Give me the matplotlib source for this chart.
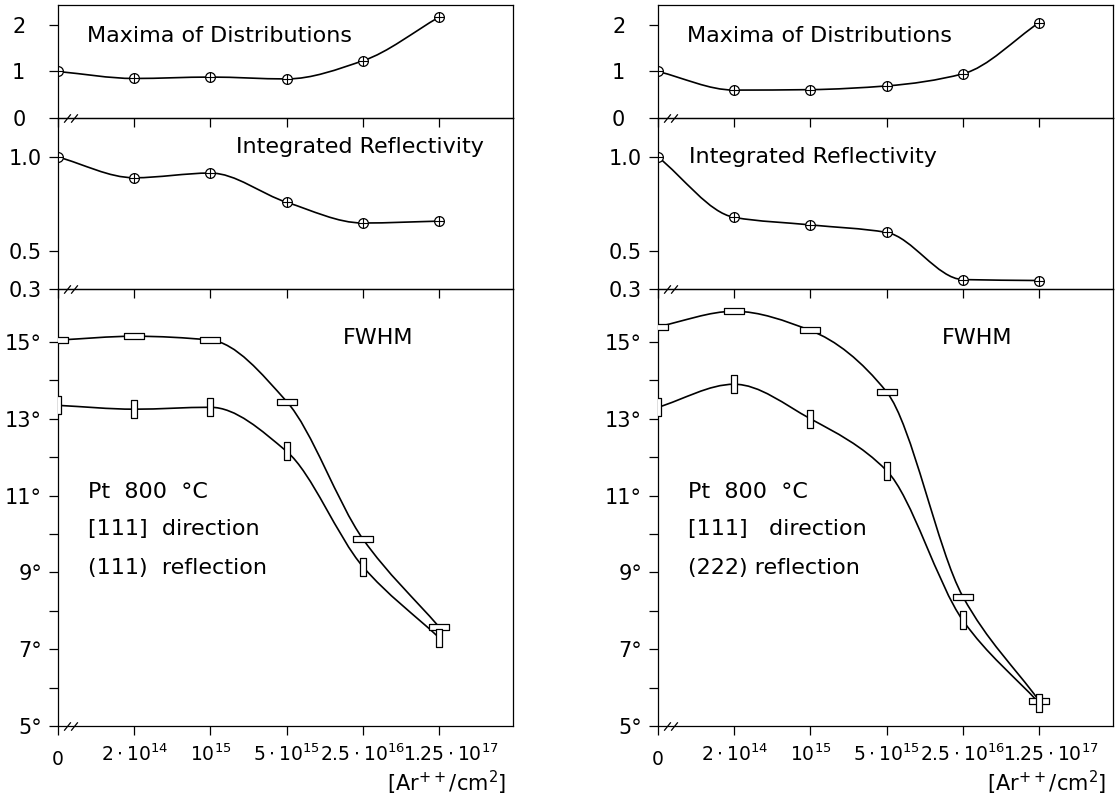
import numpy as np
import matplotlib
matplotlib.use('Agg')
import matplotlib.pyplot as plt
from matplotlib.path import Path
from matplotlib.patches import PathPatch
from matplotlib.transforms import ScaledTranslation

# x axis: Ar++ dose, drawn at equal spacing
dose_pos = [0, 1, 2, 3, 4, 5]
dose_labels = ['0', r'$2\cdot10^{14}$', r'$10^{15}$', r'$5\cdot10^{15}$',
               r'$2.5\cdot10^{16}$', r'$1.25\cdot10^{17}$']

# left: (111) reflection
max_111 = [1.0, 0.85, 0.88, 0.84, 1.23, 2.17]
refl_111 = [1.0, 0.89, 0.915, 0.76, 0.65, 0.66]
fwhm_upper_111 = [15.05, 15.15, 15.05, 13.45, 9.87, 7.58]
fwhm_lower_111 = [13.35, 13.25, 13.3, 12.15, 9.15, 7.3]

# right: (222) reflection
max_222 = [1.0, 0.6, 0.61, 0.69, 0.95, 2.05]
refl_222 = [1.0, 0.68, 0.64, 0.6, 0.35, 0.345]
fwhm_upper_222 = [15.4, 15.8, 15.3, 13.7, 8.37, 5.66]
fwhm_lower_222 = [13.3, 13.9, 13.0, 11.65, 7.75, 5.6]

plt.rcParams['font.family'] = ['DejaVu Sans']
plt.rcParams['font.size'] = 15
plt.rcParams['mathtext.fontset'] = 'dejavusans'

# marker shapes
hbar = Path([(-1, -0.27), (1, -0.27), (1, 0.27), (-1, 0.27), (-1, -0.27)],
            [Path.MOVETO, Path.LINETO, Path.LINETO, Path.LINETO, Path.CLOSEPOLY])
vbar = Path([(-0.3, -1), (0.3, -1), (0.3, 1), (-0.3, 1), (-0.3, -1)],
            [Path.MOVETO, Path.LINETO, Path.LINETO, Path.LINETO, Path.CLOSEPOLY])
slash = Path([(-0.8, -1), (0.8, 1)], [Path.MOVETO, Path.LINETO])


def smooth_curve(ax, x, y):
    # monotone cubic (Fritsch-Carlson tangents) drawn as bezier segments
    x = np.asarray(x, float)
    y = np.asarray(y, float)
    h = np.diff(x)
    d = np.diff(y) / h
    m = np.zeros_like(y)
    m[0], m[-1] = d[0], d[-1]
    for i in range(1, len(y) - 1):
        if d[i - 1] * d[i] > 0:
            m[i] = 2 / (1 / d[i - 1] + 1 / d[i])
    verts = [(x[0], y[0])]
    codes = [Path.MOVETO]
    for i in range(len(y) - 1):
        verts += [(x[i] + h[i] / 3, y[i] + m[i] * h[i] / 3),
                  (x[i + 1] - h[i] / 3, y[i + 1] - m[i + 1] * h[i] / 3),
                  (x[i + 1], y[i + 1])]
        codes += [Path.CURVE4] * 3
    ax.add_patch(PathPatch(Path(verts, codes), fill=False, lw=1.2, ec='k', zorder=2))


def circle_plus(ax, x, y):
    ax.plot(x, y, 'o', ms=7, mfc='white', mec='k', mew=0.9, zorder=3)
    ax.plot(x, y, '+', ms=7, mew=0.8, color='k', zorder=4)


def break_mark(ax):
    ax.plot([0.02, 0.036], [0, 0], ls='none', marker=slash, ms=6, mew=0.9,
            color='k', transform=ax.transAxes, clip_on=False)


def style_axes(ax, ylim, yticks, yticklabels, ypad):
    ax.set_facecolor('none')
    ax.set_xlim(0, 5.97)
    ax.set_ylim(*ylim)
    ax.set_xticks(dose_pos)
    ax.set_yticks(yticks)
    ax.set_yticklabels(yticklabels)
    ax.tick_params(direction='out', length=6.5, width=0.9)
    ax.tick_params(axis='y', pad=ypad)
    for s in ax.spines.values():
        s.set_linewidth(0.9)
    break_mark(ax)


fig = plt.figure(figsize=(11.16, 8), dpi=100)


def draw_panel(x0, maxima, refl, upper, lower, notes, refl_xy, refl_ha):
    w = 0.4077
    ax_top = fig.add_axes([x0, 0.8525, w, 0.14125])
    ax_mid = fig.add_axes([x0, 0.63875, w, 0.21375])
    ax_bot = fig.add_axes([x0, 0.0925, w, 0.54625])

    # maxima of distributions
    smooth_curve(ax_top, dose_pos, maxima)
    circle_plus(ax_top, dose_pos, maxima)
    style_axes(ax_top, (0, 2.43), [0, 1, 2], ['0', '1', '2'], 17)
    ax_top.set_xticklabels([])
    ax_top.text(0.064, 0.726, 'Maxima of Distributions', transform=ax_top.transAxes,
                va='center', ha='left', fontsize=16)

    # integrated reflectivity
    smooth_curve(ax_mid, dose_pos, refl)
    circle_plus(ax_mid, dose_pos, refl)
    style_axes(ax_mid, (0.3, 1.207), [0.3, 0.5, 1.0], ['0.3', '0.5', '1.0'], 5)
    ax_mid.set_xticklabels([])
    ax_mid.text(refl_xy[0], refl_xy[1], 'Integrated Reflectivity', transform=ax_mid.transAxes,
                va='center', ha=refl_ha, fontsize=16)

    # FWHM
    smooth_curve(ax_bot, dose_pos, upper)
    smooth_curve(ax_bot, dose_pos, lower)
    ax_bot.plot(dose_pos, upper, ls='none', marker=hbar, ms=14.4, mfc='white', mec='k',
                mew=0.9, zorder=3)
    ax_bot.plot(dose_pos, lower, ls='none', marker=vbar, ms=13.5, mfc='white', mec='k',
                mew=0.9, zorder=3)
    style_axes(ax_bot, (5, 16.38), [5, 7, 9, 11, 13, 15],
               ['5°', '7°', '9°', '11°', '13°', '15°'], 5)
    ax_bot.set_yticks([6, 8, 10, 12, 14], minor=True)
    ax_bot.tick_params(axis='y', which='minor', direction='out', length=6.5, width=0.9)
    ax_bot.set_xticklabels(dose_labels, fontsize=13.5)
    ax_bot.tick_params(axis='x', pad=6)
    labels = ax_bot.get_xticklabels()
    # "0" has no exponent: drop it to the baseline of the others
    labels[0].set_transform(labels[0].get_transform()
                            + ScaledTranslation(0, -0.07, fig.dpi_scale_trans))
    labels[-1].set_transform(labels[-1].get_transform()
                             + ScaledTranslation(0.12, 0, fig.dpi_scale_trans))

    ax_bot.text(0.625, 0.888, 'FWHM', transform=ax_bot.transAxes,
                va='center', ha='left', fontsize=16)
    for txt, yy in zip(notes, [0.535, 0.450, 0.362]):
        ax_bot.text(0.066, yy, txt, transform=ax_bot.transAxes, va='center', ha='left',
                    fontsize=16)
    ax_bot.text(0.985, -0.13, r'[Ar$^{++}$/cm$^{2}$]', transform=ax_bot.transAxes,
                va='center', ha='right', fontsize=15)


draw_panel(0.0520, max_111, refl_111, fwhm_upper_111, fwhm_lower_111,
           ['Pt  800  °C', '[111]  direction', '(111)  reflection'], (0.935, 0.83), 'right')
draw_panel(0.5896, max_222, refl_222, fwhm_upper_222, fwhm_lower_222,
           ['Pt  800  °C', '[111]   direction', '(222) reflection'], (0.068, 0.772), 'left')

fig.savefig('out.png', dpi=100)
